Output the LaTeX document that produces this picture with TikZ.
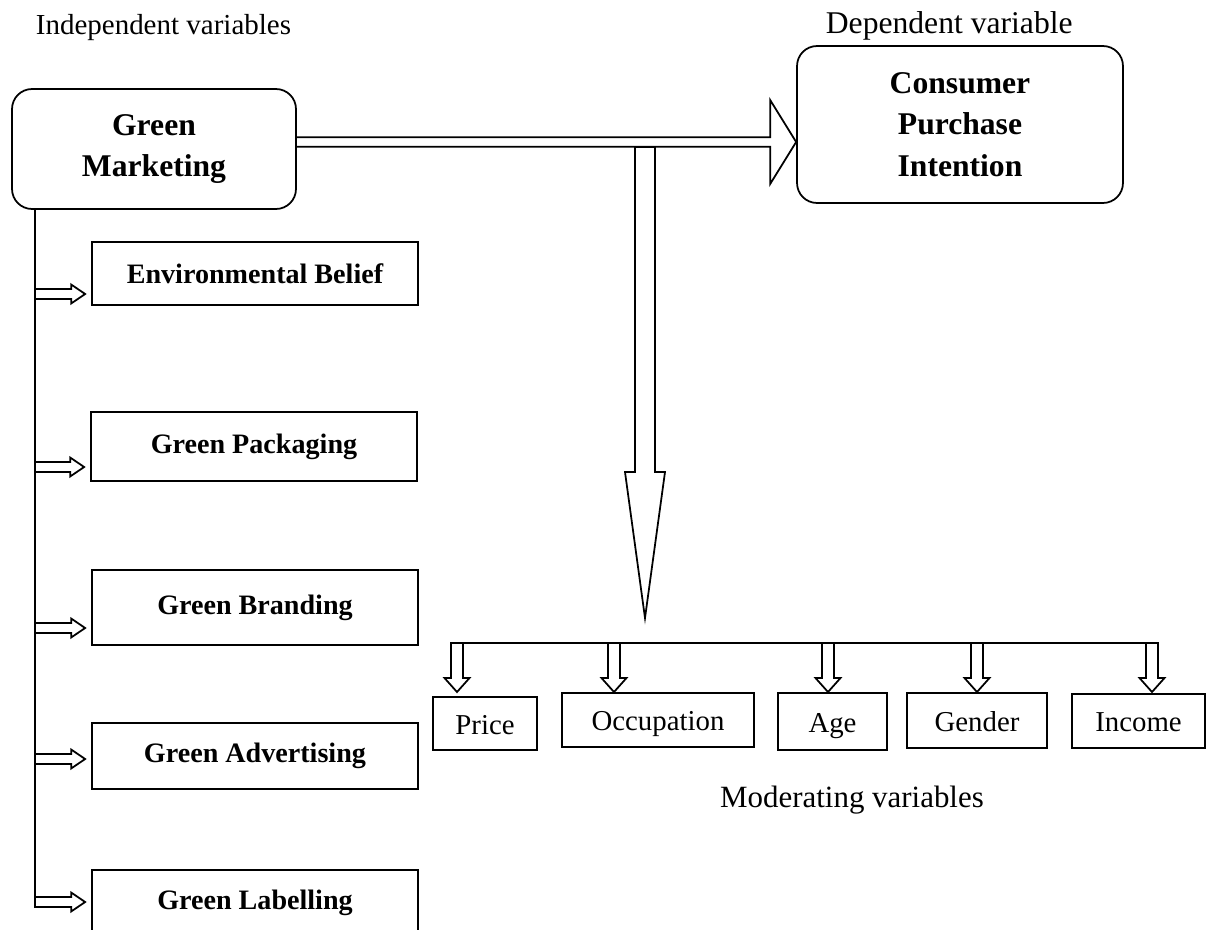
\documentclass[tikz,border=0pt]{standalone}
\usepackage{fontspec}
\setmainfont{Liberation Serif}
\usepackage{tikz}
\usetikzlibrary{calc, positioning}
\tikzset{
  blockarrow/.style n args={3}{to path={
    ($(\tikztostart)!#1!90:(\tikztotarget)$)
    -- ($(\tikztotarget)!#3!(\tikztostart)!#1!90:(\tikztotarget)$)
    -- ($(\tikztotarget)!#3!(\tikztostart)!#2!90:(\tikztotarget)$)
    -- (\tikztotarget)
    -- ($(\tikztotarget)!#3!(\tikztostart)!#2!-90:(\tikztotarget)$)
    -- ($(\tikztotarget)!#3!(\tikztostart)!#1!-90:(\tikztotarget)$)
    -- ($(\tikztostart)!#1!-90:(\tikztotarget)$) -- cycle}},
  bigbox/.style={draw, rounded corners=0.4cm, align=center, inner sep=0pt,
    font=\fontsize{18}{23.8}\selectfont\bfseries},
  varbox/.style={draw, minimum width=6.52cm, inner sep=0pt,
    font=\fontsize{16}{19}\selectfont\bfseries},
  modbox/.style={draw, inner sep=0pt, text height=12.5pt, text depth=0.5pt,
    font=\fontsize{16.4}{19}\selectfont},
  caption/.style={inner sep=0pt, font=\fontsize{16.5}{20}\selectfont}
}
\begin{document}
\begin{tikzpicture}[x=0.02cm, y=-0.02cm, line width=1pt]
    \clip (0,0) rectangle (1211,930);
    % headings
    \node[caption, anchor=base west] (indep) at (35,34) {Independent variables};
    \node[caption, anchor=base west, font=\fontsize{18}{22}\selectfont] (dep) at (825,33) {Dependent variable};
    \node[caption, font=\fontsize{17.6}{21}\selectfont] (moder) at (852,800) {Moderating variables};
    % main boxes
    \node[bigbox, minimum width=5.68cm, minimum height=2.4cm] (gm) at (154,149) {Green\\Marketing};
    \node[bigbox, minimum width=6.52cm, minimum height=3.14cm] (cpi) at (960,124.5) {Consumer\\Purchase\\Intention};
    % independent variables
    \node[varbox, minimum height=1.26cm] (eb) at (255,273.5) {Environmental Belief};
    \node[varbox, minimum height=1.38cm] (gp) at (254,446.5) {Green Packaging};
    \node[varbox, minimum height=1.5cm] (gb) at (255,607.5) {Green Branding};
    \node[varbox, minimum height=1.32cm] (ga) at (255,756) {Green Advertising};
    \node[varbox, minimum height=1.32cm] (gl) at (255,903) {Green Labelling};
    % moderating variables
    \node[modbox, minimum width=2.08cm, minimum height=1.06cm] (pr) at (485,723.5) {Price};
    \node[modbox, minimum width=3.84cm, minimum height=1.08cm] (oc) at (658,720) {Occupation};
    \node[modbox, minimum width=2.18cm, minimum height=1.14cm] (ag) at (832.5,721.5) {Age};
    \node[modbox, minimum width=2.8cm, minimum height=1.1cm] (ge) at (977,720.5) {Gender};
    \node[modbox, minimum width=2.66cm, minimum height=1.08cm] (in) at (1138.5,721) {Income};
    % spine and bus
    \coordinate (s1) at (35,294);
    \coordinate (s2) at (35,467);
    \coordinate (s3) at (35,628);
    \coordinate (s4) at (35,759);
    \coordinate (s5) at (35,902);
    \draw (gm.south -| s1) -- ($(s5)+(0,5)$);
    \foreach \s/\b in {s1/eb, s2/gp, s3/gb, s4/ga, s5/gl}
        \draw[blockarrow={0.1cm}{0.19cm}{0.28cm}] (\s) to ($(\s -| \b.west)+(-6,0)$);
    % big arrows
    \coordinate (hs) at (296,142);
    \draw[blockarrow={0.094cm}{0.84cm}{0.52cm}] (hs) to (cpi.west |- hs);
    \coordinate (vs) at (645,147);
    \coordinate (vt) at (645,618);
    \draw[blockarrow={0.2cm}{0.4cm}{2.92cm}] (vs) to (vt);
    % moderating bus
    \coordinate (m1) at (457,643);
    \coordinate (m2) at (614,643);
    \coordinate (m3) at (828,643);
    \coordinate (m4) at (977,643);
    \coordinate (m5) at (1152,643);
    \draw ($(m1)+(-6,0)$) -- ($(m5)+(6,0)$);
    \foreach \m in {m1, m2, m3, m4, m5}
        \draw[blockarrow={0.12cm}{0.25cm}{0.28cm}] (\m) to ($(\m)+(0,49)$);
\end{tikzpicture}
\end{document}
